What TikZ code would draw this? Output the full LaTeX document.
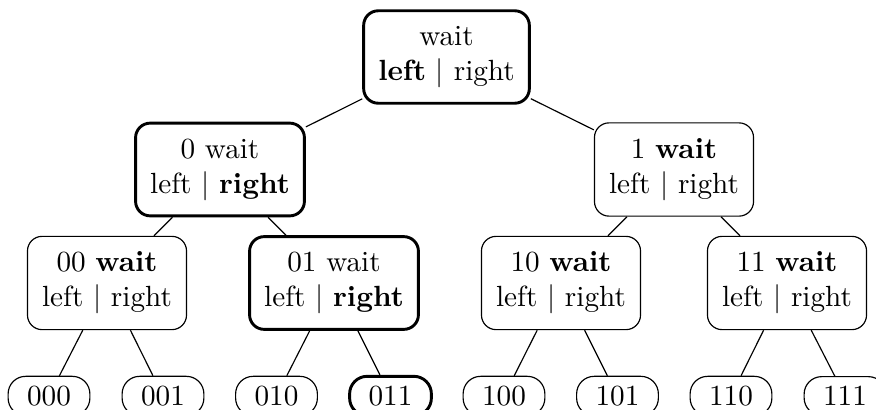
\documentclass[tikz,border=0pt]{standalone}
\begin{document}
\begin{tikzpicture}[x=0.3425pt,y=-0.3425pt,
  st/.style={draw,rounded corners=5pt,align=center,inner xsep=5pt,inner ysep=5.3pt,line width=0.4pt},
  hot/.style={line width=1pt},
  leaf/.style={draw,rounded corners=6pt,inner xsep=6.5pt,inner ysep=3.3pt,line width=0.4pt},
  edge/.style={line width=0.4pt}]
\clip (0,0) rectangle (876,410);
\node[st,hot] (r) at (446.5,57) {wait\\\textbf{left} $|$ right};
\node[st,hot] (a0) at (220,169.5) {0 wait\\left $|$ \textbf{right}};
\node[st] (a1) at (674,169.5) {1 \textbf{wait}\\left $|$ right};
\node[st] (b00) at (107,283) {00 \textbf{wait}\\left $|$ right};
\node[st,hot] (b01) at (334,283) {01 wait\\left $|$ \textbf{right}};
\node[st] (b10) at (561,283) {10 \textbf{wait}\\left $|$ right};
\node[st] (b11) at (787,283) {11 \textbf{wait}\\left $|$ right};
\node[leaf] (c000) at (49,396) {000};
\node[leaf] (c001) at (163,396) {001};
\node[leaf] (c010) at (276.5,396) {010};
\node[leaf,hot] (c011) at (390.5,396) {011};
\node[leaf] (c100) at (504,396) {100};
\node[leaf] (c101) at (617.5,396) {101};
\node[leaf] (c110) at (731,396) {110};
\node[leaf] (c111) at (845,396) {111};
\draw[edge] (r) -- (a0);
\draw[edge] (r) -- (a1);
\draw[edge] (a0) -- (b00);
\draw[edge] (a0) -- (b01);
\draw[edge] (a1) -- (b10);
\draw[edge] (a1) -- (b11);
\draw[edge] (b00) -- (c000);
\draw[edge] (b00) -- (c001);
\draw[edge] (b01) -- (c010);
\draw[edge] (b01) -- (c011);
\draw[edge] (b10) -- (c100);
\draw[edge] (b10) -- (c101);
\draw[edge] (b11) -- (c110);
\draw[edge] (b11) -- (c111);
\end{tikzpicture}
\end{document}
